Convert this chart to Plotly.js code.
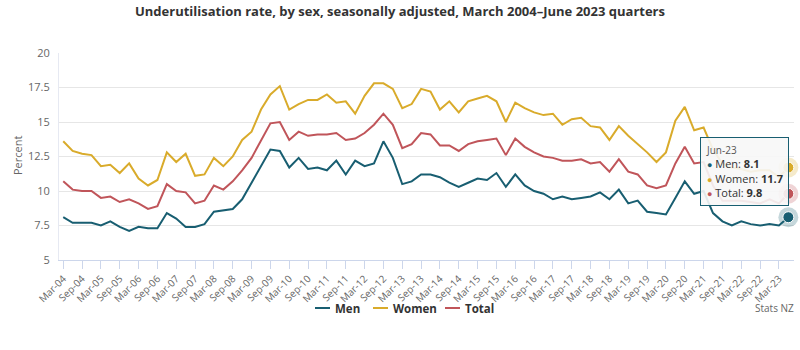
<!DOCTYPE html>
<html>
<head>
<meta charset="utf-8">
<script src="https://cdn.plot.ly/plotly-3.0.1.min.js"></script>
<style>
  html, body { margin: 0; padding: 0; background: #fff; }
  #chart { width: 800px; height: 350px; }
</style>
</head>
<body>
<div id="chart"></div>
<script>
const categories = [
  "Mar-04","Jun-04","Sep-04","Dec-04","Mar-05","Jun-05","Sep-05","Dec-05",
  "Mar-06","Jun-06","Sep-06","Dec-06","Mar-07","Jun-07","Sep-07","Dec-07",
  "Mar-08","Jun-08","Sep-08","Dec-08","Mar-09","Jun-09","Sep-09","Dec-09",
  "Mar-10","Jun-10","Sep-10","Dec-10","Mar-11","Jun-11","Sep-11","Dec-11",
  "Mar-12","Jun-12","Sep-12","Dec-12","Mar-13","Jun-13","Sep-13","Dec-13",
  "Mar-14","Jun-14","Sep-14","Dec-14","Mar-15","Jun-15","Sep-15","Dec-15",
  "Mar-16","Jun-16","Sep-16","Dec-16","Mar-17","Jun-17","Sep-17","Dec-17",
  "Mar-18","Jun-18","Sep-18","Dec-18","Mar-19","Jun-19","Sep-19","Dec-19",
  "Mar-20","Jun-20","Sep-20","Dec-20","Mar-21","Jun-21","Sep-21","Dec-21",
  "Mar-22","Jun-22","Sep-22","Dec-22","Mar-23","Jun-23"
];

const men = [
  8.1, 7.7, 7.7, 7.7, 7.5, 7.8, 7.4, 7.1, 7.4, 7.3, 7.3, 8.4, 8.0, 7.4, 7.4, 7.6,
  8.5, 8.6, 8.7, 9.4, 10.6, 11.9, 13.0, 12.9, 11.7, 12.4, 11.6, 11.7, 11.5, 12.2, 11.2, 12.2,
  11.8, 12.0, 13.6, 12.4, 10.5, 10.7, 11.2, 11.2, 11.0, 10.6, 10.3, 10.6, 10.9, 10.8, 11.3, 10.3,
  11.2, 10.4, 10.0, 9.8, 9.4, 9.6, 9.4, 9.5, 9.6, 9.9, 9.4, 10.1, 9.1, 9.3, 8.5, 8.4,
  8.3, 9.5, 10.7, 9.8, 10.0, 8.4, 7.8, 7.5, 7.8, 7.6, 7.5, 7.6, 7.5, 8.1
];

const women = [
  13.6, 12.9, 12.7, 12.6, 11.8, 11.9, 11.3, 12.0, 10.9, 10.4, 10.8, 12.8, 12.1, 12.7, 11.1, 11.2,
  12.4, 11.8, 12.5, 13.7, 14.3, 15.9, 17.0, 17.6, 15.9, 16.3, 16.6, 16.6, 17.0, 16.4, 16.5, 15.6,
  16.9, 17.8, 17.8, 17.4, 16.0, 16.3, 17.4, 17.2, 15.9, 16.5, 15.7, 16.5, 16.7, 16.9, 16.5, 15.0,
  16.4, 16.0, 15.7, 15.5, 15.6, 14.8, 15.2, 15.3, 14.7, 14.6, 13.7, 14.7, 14.0, 13.4, 12.8, 12.1,
  12.8, 15.1, 16.1, 14.4, 14.6, 13.0, 12.0, 11.7, 11.6, 11.4, 11.5, 11.5, 11.0, 11.7
];

const total = [
  10.7, 10.1, 10.0, 10.0, 9.5, 9.6, 9.2, 9.4, 9.1, 8.7, 8.9, 10.5, 10.0, 9.9, 9.1, 9.3,
  10.4, 10.1, 10.7, 11.5, 12.4, 13.7, 14.9, 15.0, 13.7, 14.3, 14.0, 14.1, 14.1, 14.2, 13.7, 13.8,
  14.2, 14.8, 15.6, 14.8, 13.1, 13.4, 14.2, 14.1, 13.3, 13.3, 12.9, 13.4, 13.6, 13.7, 13.8, 12.6,
  13.8, 13.2, 12.8, 12.5, 12.4, 12.2, 12.2, 12.3, 12.0, 12.1, 11.4, 12.3, 11.4, 11.2, 10.4, 10.2,
  10.4, 12.0, 13.2, 12.0, 12.1, 10.4, 9.3, 9.3, 9.3, 9.2, 9.1, 9.4, 9.1, 9.8
];

const seriesNames = ["Men", "Women", "Total"];
const seriesColors = ["#185e71", "#d9ab2b", "#c0555a"];
const seriesData = [men, women, total];

// ticks every half-year (Mar and Sep)
const tickLabels = categories.filter(c => c.startsWith("Mar") || c.startsWith("Sep"));

const FONT = "'Open Sans', 'Noto Sans', sans-serif";
const last = categories.length - 1;

const traces = [];
seriesData.forEach((vals, k) => {
  traces.push({
    x: categories, y: vals, type: "scatter", mode: "lines",
    name: seriesNames[k], showlegend: false,
    line: { color: seriesColors[k], width: 2 },
    hoverinfo: "skip"
  });
});
// hovered end-point markers with halo
seriesData.forEach((vals, k) => {
  traces.push({
    x: [categories[last]], y: [vals[last]], type: "scatter", mode: "markers",
    showlegend: false, hoverinfo: "skip", cliponaxis: false,
    marker: { size: 20, color: seriesColors[k], opacity: 0.25, line: { width: 0 } }
  });
  traces.push({
    x: [categories[last]], y: [vals[last]], type: "scatter", mode: "markers",
    showlegend: false, hoverinfo: "skip", cliponaxis: false,
    marker: { size: 11, color: seriesColors[k], line: { width: 1, color: "#ffffff" } }
  });
});

const bullet = c => `<span style="color:${c};font-size:9px">●</span>`;
const tipText =
  `<span style="font-size:10px;color:#555">${categories[last]}</span><br>` +
  seriesNames.map((n, k) => `${bullet(seriesColors[k])} ${n}: <b>${seriesData[k][last]}</b>`).join("<br>");

// manual legend (pixel positions converted to paper coords)
const PL = 59, PW = 735, PB = 260, PH = 207;
const px = v => (v - PL) / PW;
const py = v => (PB - v) / PH;
const legendY = py(308);
const legendLineX = [315, 373, 445];
const shapes = [];
const annotations = [];
seriesNames.forEach((n, k) => {
  shapes.push({
    type: "line", xref: "paper", yref: "paper",
    x0: px(legendLineX[k]), x1: px(legendLineX[k] + 15), y0: legendY, y1: legendY,
    line: { color: seriesColors[k], width: 2 }
  });
  annotations.push({
    xref: "paper", yref: "paper", x: px(legendLineX[k] + 18), xanchor: "left",
    y: legendY, yanchor: "middle", showarrow: false,
    text: `<b>${n}</b>`, font: { family: FONT, size: 11.5, color: "#333333" }
  });
});

annotations.push({
  xref: "paper", yref: "paper",
  x: px(796), xanchor: "right", y: legendY, yanchor: "middle",
  text: "Stats NZ", showarrow: false,
  font: { family: FONT, size: 10, color: "#666666" }
});
annotations.push({
  xref: "paper", yref: "paper",
  x: px(17), xanchor: "center", y: py(156), yanchor: "middle",
  text: "Percent", textangle: -90, showarrow: false,
  font: { family: FONT, size: 11, color: "#666666" }
});
annotations.push({
  xref: "paper", yref: "paper",
  x: px(700), xanchor: "left",
  y: py(137), yanchor: "top",
  text: tipText, showarrow: false, align: "left",
  bgcolor: "rgba(247,247,247,0.9)",
  bordercolor: "#185e71", borderwidth: 1, borderpad: 5,
  font: { family: FONT, size: 11, color: "#333333" }
});

const layout = {
  width: 800, height: 350,
  margin: { l: 59, r: 6, t: 53, b: 90 },
  paper_bgcolor: "#ffffff", plot_bgcolor: "#ffffff",
  font: { family: FONT, color: "#666666", size: 11 },
  title: {
    text: "<b>Underutilisation rate, by sex, seasonally adjusted, March 2004–June 2023 quarters</b>",
    font: { family: FONT, size: 13, color: "#333333" },
    x: 0.5, xanchor: "center", y: 0.966, yanchor: "middle"
  },
  xaxis: {
    type: "category",
    range: [-0.45, 77.6],
    tickmode: "array",
    tickvals: tickLabels, ticktext: tickLabels,
    tickangle: -45,
    ticks: "outside", ticklen: 8, tickcolor: "#ccd6eb", tickwidth: 1,
    showline: true, linecolor: "#ccd6eb", linewidth: 1,
    showgrid: false, zeroline: false,
    tickfont: { family: FONT, size: 10, color: "#666666" },
    fixedrange: true
  },
  yaxis: {
    range: [5, 20],
    dtick: 2.5, tick0: 5,
    showgrid: true, gridcolor: "#e6e6e6", gridwidth: 1,
    showline: true, linecolor: "#e6e9f2", linewidth: 1,
    zeroline: false,
    ticks: "", ticklabelstandoff: 6,
    tickfont: { family: FONT, size: 11, color: "#666666" },
    fixedrange: true
  },
  showlegend: false,
  hovermode: false,
  shapes: shapes,
  annotations: annotations
};

Plotly.newPlot("chart", traces, layout, { displayModeBar: false, staticPlot: true });
</script>
</body>
</html>
